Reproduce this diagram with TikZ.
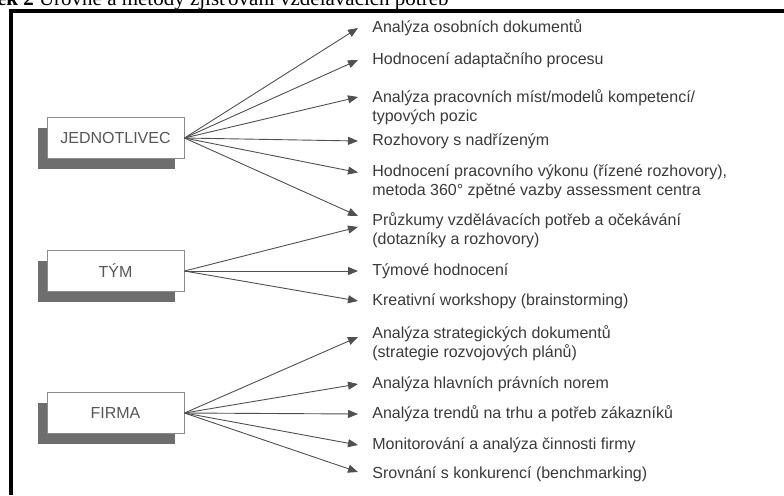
\documentclass[tikz,border=0pt]{standalone}
\usepackage{fontspec}
\setmainfont{Liberation Serif}
\setsansfont{Liberation Sans}
\usepackage{xcolor}
\definecolor{inkgray}{HTML}{3A3A3A}
\definecolor{linegray}{HTML}{505050}
\definecolor{edgegray}{HTML}{8C8C8C}
\definecolor{shadegray}{HTML}{6E6E6E}
\usetikzlibrary{arrows.meta,shadows}

\begin{document}
\begin{tikzpicture}[
  x=0.5pt, y=-0.5pt,
  font=\sffamily\fontsize{8}{9.5}\selectfont,
  >={Triangle[length=5pt,width=4pt]},
  level/.style={draw=edgegray, fill=white, text=inkgray!85, line width=0.5pt,
    minimum width=68.5pt, minimum height=20.5pt, inner sep=0pt,
    general shadow={fill=shadegray, shadow xshift=-4.5pt, shadow yshift=-5pt}},
  method/.style={anchor=west, align=left, inner sep=0pt, text=inkgray},
  link/.style={->, draw=linegray, line width=0.45pt},
]
\useasboundingbox (0,0) rectangle (784,495);

% Caption and frame
\node[anchor=base east, inner sep=0pt, font=\rmfamily\fontsize{10.5}{12}\selectfont] (title) at (449,5)
  {\textbf{Obrázek 2} Úrovně a metody zjišťování vzdělávacích potřeb};
\draw[line width=2pt] (11,495) -- (11,11) -- (784,11);

% Levels
\node[level] (jed) at (115.5,138) {JEDNOTLIVEC};
\node[level] (tym) at (115.5,271) {TÝM};
\node[level] (firma) at (115.5,413) {FIRMA};

% Methods
\node[method] (osob) at (372,28) {Analýza osobních dokumentů};
\node[method] (adapt) at (372,60) {Hodnocení adaptačního procesu};
\node[method] (prac) at (372,107) {Analýza pracovních míst/modelů kompetencí/\\typových pozic};
\node[method] (nadr) at (372,141) {Rozhovory s nadřízeným};
\node[method] (vykon) at (372,181.5) {Hodnocení pracovního výkonu (řízené rozhovory),\\metoda 360° zpětné vazby assessment centra};
\node[method] (pruz) at (372,230) {Průzkumy vzdělávacích potřeb a očekávání\\(dotazníky a rozhovory)};
\node[method] (tymh) at (372,271) {Týmové hodnocení};
\node[method] (kreat) at (372,301) {Kreativní workshopy (brainstorming)};
\node[method] (strat) at (372,343) {Analýza strategických dokumentů\\(strategie rozvojových plánů)};
\node[method] (hlav) at (372,384) {Analýza hlavních právních norem};
\node[method] (trend) at (372,414) {Analýza trendů na trhu a potřeb zákazníků};
\node[method] (monit) at (372,445) {Monitorování a analýza činnosti firmy};
\node[method] (srov) at (372,474) {Srovnání s konkurencí (benchmarking)};

\draw[link] (jed.east) -- ([xshift=-7pt]osob.west);
\draw[link] (jed.east) -- ([xshift=-7pt]adapt.west);
\draw[link] (jed.east) -- ([xshift=-7pt,yshift=5pt]prac.west);
\draw[link] (jed.east) -- ([xshift=-7pt]nadr.west);
\draw[link] (jed.east) -- ([xshift=-7pt,yshift=4.5pt]vykon.west);
\draw[link] (jed.east) -- ([xshift=-7pt,yshift=7pt]pruz.west);

\draw[link] (tym.east) -- ([xshift=-7pt,yshift=1.5pt]pruz.west);
\draw[link] (tym.east) -- ([xshift=-7pt]tymh.west);
\draw[link] (tym.east) -- ([xshift=-7pt]kreat.west);

\draw[link] (firma.east) -- ([xshift=-7pt,yshift=3pt]strat.west);
\draw[link] (firma.east) -- ([xshift=-7pt]hlav.west);
\draw[link] (firma.east) -- ([xshift=-7pt]trend.west);
\draw[link] (firma.east) -- ([xshift=-7pt]monit.west);
\draw[link] (firma.east) -- ([xshift=-7pt,yshift=1pt]srov.west);
\end{tikzpicture}
\end{document}
